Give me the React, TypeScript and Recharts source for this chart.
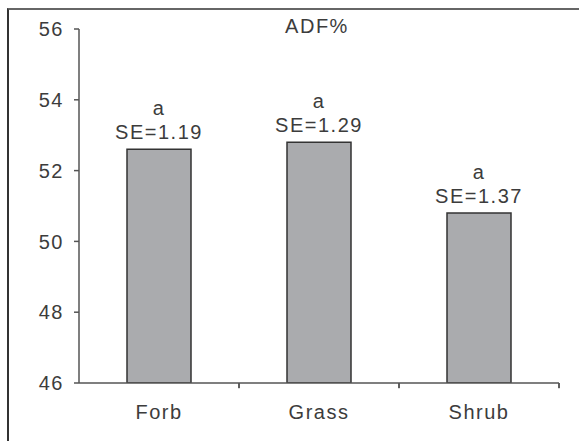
import { Bar, BarChart, LabelList, ReferenceLine, XAxis, YAxis } from "recharts";

const groups = ["Forb", "Grass", "Shrub"];
const adfValues = [52.6, 52.8, 50.8];
const seLabels = ["SE=1.19", "SE=1.29", "SE=1.37"];
const letters = ["a", "a", "a"];
const yTicks = [46, 48, 50, 52, 54, 56];
const Y_MIN = 46;
// length of the category boundary ticks, in axis units (about 5px)
const TICK_DEPTH = 0.15;

const data = groups.map((name, i) => ({
  name,
  adf: adfValues[i],
  se: seLabels[i],
  letter: letters[i],
}));

const FONT = '"Liberation Sans", Arial, sans-serif';
const TEXT = "#3c3c3c";
const AXIS = "#555";

const CHART_W = 579;
const CHART_H = 441;
const MARGIN = { top: 29, right: 20, bottom: 0, left: 0 };
const Y_AXIS_W = 79;
const HALF_BAND = (CHART_W - MARGIN.left - MARGIN.right - Y_AXIS_W) / groups.length / 2;

function BarLabel(props: any) {
  const { x, y, width, index } = props;
  const cx = x + width / 2;
  return (
    <g fontFamily={FONT} fontSize={20} fill={TEXT} letterSpacing={1.5}>
      <text x={cx} y={y - 34} textAnchor="middle">
        {data[index].letter}
      </text>
      <text x={cx} y={y - 10} textAnchor="middle">
        {data[index].se}
      </text>
    </g>
  );
}

export default function App() {
  return (
    <div style={{ position: "absolute", left: 0, top: 0, width: CHART_W, height: CHART_H, background: "#fff" }}>
      <div
        style={{
          position: "absolute",
          left: 7,
          top: 8,
          right: 0,
          bottom: 0,
          borderTop: "2px solid #666",
          borderLeft: "2px solid #333",
        }}
      />
      <div
        style={{
          position: "absolute",
          left: 0,
          width: 634,
          top: 15,
          textAlign: "center",
          fontFamily: FONT,
          fontSize: 20,
          letterSpacing: 1.5,
          color: TEXT,
        }}
      >
        ADF%
      </div>
      <BarChart
        width={CHART_W}
        height={CHART_H}
        data={data}
        margin={MARGIN}
        barCategoryGap="30%"
        style={{ position: "absolute", left: 0, top: 0 }}
      >
        <XAxis
          dataKey="name"
          height={58}
          axisLine={{ stroke: AXIS, strokeWidth: 1.5 }}
          tickLine={{ stroke: AXIS, strokeWidth: 1.5, transform: `translate(${HALF_BAND},0)` }}
          tickSize={5}
          tickMargin={17}
          tick={{ fill: TEXT, fontFamily: FONT, fontSize: 20, letterSpacing: 1.5 }}
        />
        <YAxis
          width={Y_AXIS_W}
          domain={[46, 56]}
          ticks={yTicks}
          allowDataOverflow
          axisLine={{ stroke: AXIS, strokeWidth: 1.5 }}
          tickLine={{ stroke: AXIS, strokeWidth: 1.5 }}
          tickSize={5}
          tickMargin={10}
          tick={{ fill: TEXT, fontFamily: FONT, fontSize: 20, letterSpacing: 1.5 }}
        />
        {/* boundary ticks at the right edge of each category band */}
        {groups.map((g) => (
          <ReferenceLine
            key={g}
            segment={[
              { x: g, y: Y_MIN },
              { x: g, y: Y_MIN - TICK_DEPTH },
            ]}
            position="end"
            ifOverflow="visible"
            stroke={AXIS}
            strokeWidth={1.5}
          />
        ))}
        <Bar dataKey="adf" fill="#aaabae" stroke="#333" strokeWidth={1.5} isAnimationActive={false}>
          <LabelList dataKey="se" content={BarLabel} />
        </Bar>
      </BarChart>
    </div>
  );
}
